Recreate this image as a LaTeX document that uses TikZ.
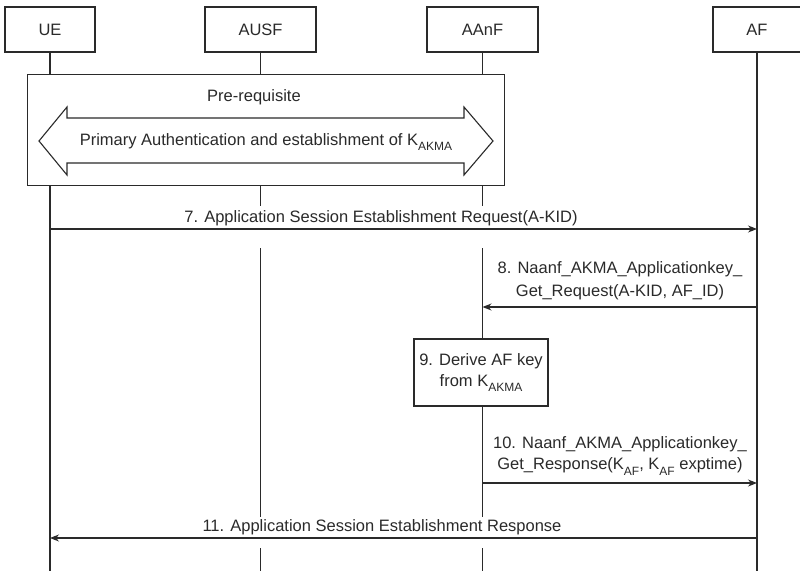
\documentclass[tikz,border=0pt]{standalone}
\usepackage{fontspec}
\setmainfont{Liberation Sans}
\usetikzlibrary{arrows.meta}
\newcommand{\ksub}[1]{\raisebox{-0.32em}{\fontsize{12}{12}\selectfont #1}}
\definecolor{ink}{HTML}{2A2A2A}
\tikzset{
  base/.style={font=\fontsize{16.5}{21}\selectfont, text=ink},
  actor/.style={base, draw=ink, line width=1.1pt, fill=white, minimum height=45pt, inner sep=0pt},
  life/.style={draw=ink, line width=1.1pt},
  msg/.style={draw=ink, line width=1.1pt, -{Stealth[length=9pt,width=7pt]}},
  mask/.style={fill=white, draw=none, inner sep=0pt},
  lbl/.style={base, align=center, inner sep=0pt},
  procbox/.style={base, draw=ink, line width=1.1pt, fill=white, align=center, inner sep=0pt}
}
\begin{document}
\begin{tikzpicture}[x=1pt,y=-1pt]
\useasboundingbox (0,0) rectangle (800,570);
% actors
\node[actor, minimum width=90pt]  (ue)   at (50,29.5)    {UE};
\node[actor, minimum width=111pt] (ausf) at (260.5,29.5) {AUSF};
\node[actor, minimum width=111pt] (aanf) at (482.5,29.5) {AAnF};
\node[actor, minimum width=88pt]  (af)   at (757,29.5)   {AF};
% lifeline ends
\coordinate (ueEnd)   at (50,575);
\coordinate (ausfEnd) at (260,575);
\coordinate (aanfEnd) at (483,575);
\coordinate (afEnd)   at (757,575);
\draw[life] (ue.south) -- (ueEnd);
\draw[life] (ausf.south) -- (ausf.south |- ausfEnd);
\draw[life] (aanf.south) -- (aanf.south |- aanfEnd);
\draw[life] (af.south) -- (afEnd);
% pre-requisite box
\node[draw=ink, line width=1.1pt, fill=white, minimum width=477pt, minimum height=111pt, anchor=north west, inner sep=0pt] (pre) at (27,74) {};
\node[lbl] (pretxt) at (254,97) {Pre-requisite};
\draw[draw=ink, line width=1.1pt, fill=white, line join=miter]
  (39,141) -- (67,107) -- (67,118) -- (464,118) -- (464,107) -- (493,141)
  -- (464,175) -- (464,163) -- (67,163) -- (67,175) -- cycle;
\node[lbl] (primary) at (266,142) {Primary Authentication and establishment of K\ksub{AKMA}};
% masks for labels crossing lifelines
\node[mask, minimum width=420pt, minimum height=42pt] (mask7)  at (381,227) {};
\node[mask, minimum width=370pt, minimum height=31pt] (mask11) at (382,532.5) {};
% message rows
\coordinate (r7)  at (0,229);
\coordinate (r8)  at (0,307);
\coordinate (r10) at (0,483);
\coordinate (r11) at (0,538);
\draw[msg] (ue.south |- r7) -- (af.south |- r7);
\node[lbl] (l7) at (381,218) {7. Application Session Establishment Request(A-KID)};
\draw[msg] (af.south |- r8) -- (aanf.south |- r8);
\node[lbl, font=\fontsize{16.5}{23}\selectfont] (l8) at (620,280.5) {8. Naanf\_AKMA\_Applicationkey\_\\Get\_Request(A-KID, AF\_ID)};
\node[procbox, minimum width=134pt, minimum height=67pt] (p9) at (481,372.5) {9. Derive AF key\\from K\ksub{AKMA}};
\draw[msg] (aanf.south |- r10) -- (af.south |- r10);
\node[lbl] (l10) at (620,456) {10. Naanf\_AKMA\_Applicationkey\_\\Get\_Response(K\ksub{AF}, K\ksub{AF} exptime)};
\draw[msg] (af.south |- r11) -- (ue.south |- r11);
\node[lbl] (l11) at (382,527.5) {11. Application Session Establishment Response};
\end{tikzpicture}
\end{document}
